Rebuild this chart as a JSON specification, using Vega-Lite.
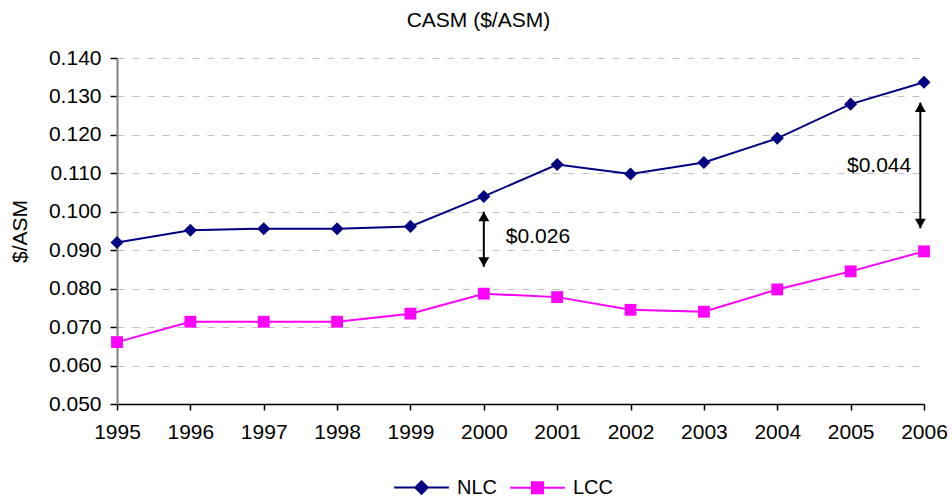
{
  "$schema": "https://vega.github.io/schema/vega-lite/v6.json",
  "width": 807,
  "height": 346,
  "autosize": {"type": "none"},
  "padding": {"left": 117, "top": 58, "right": 28, "bottom": 95},
  "background": "white",
  "title": {
    "text": "CASM ($/ASM)",
    "font": "Liberation Sans",
    "fontSize": 21,
    "fontWeight": "normal",
    "color": "black",
    "anchor": "middle",
    "frame": "bounds",
    "offset": 16
  },
  "datasets": {
    "series": [
      {"year": 1995, "series": "NLC", "casm": 0.0920},
      {"year": 1996, "series": "NLC", "casm": 0.0952},
      {"year": 1997, "series": "NLC", "casm": 0.0956},
      {"year": 1998, "series": "NLC", "casm": 0.0956},
      {"year": 1999, "series": "NLC", "casm": 0.0962},
      {"year": 2000, "series": "NLC", "casm": 0.1040},
      {"year": 2001, "series": "NLC", "casm": 0.1123},
      {"year": 2002, "series": "NLC", "casm": 0.1098},
      {"year": 2003, "series": "NLC", "casm": 0.1128},
      {"year": 2004, "series": "NLC", "casm": 0.1191},
      {"year": 2005, "series": "NLC", "casm": 0.1280},
      {"year": 2006, "series": "NLC", "casm": 0.1337},
      {"year": 1995, "series": "LCC", "casm": 0.0661},
      {"year": 1996, "series": "LCC", "casm": 0.0714},
      {"year": 1997, "series": "LCC", "casm": 0.0714},
      {"year": 1998, "series": "LCC", "casm": 0.0714},
      {"year": 1999, "series": "LCC", "casm": 0.0735},
      {"year": 2000, "series": "LCC", "casm": 0.0787},
      {"year": 2001, "series": "LCC", "casm": 0.0778},
      {"year": 2002, "series": "LCC", "casm": 0.0745},
      {"year": 2003, "series": "LCC", "casm": 0.0740},
      {"year": 2004, "series": "LCC", "casm": 0.0798},
      {"year": 2005, "series": "LCC", "casm": 0.0845},
      {"year": 2006, "series": "LCC", "casm": 0.0897}
    ],
    "arrows": [
      {"x": 2000, "top": 0.1000, "bottom": 0.0857},
      {"x": 2005.95, "top": 0.1284, "bottom": 0.0957}
    ],
    "labels": [
      {"x": 2000.30, "y": 0.0935, "label": "$0.026"},
      {"x": 2004.95, "y": 0.1118, "label": "$0.044"}
    ]
  },
  "encoding": {
    "x": {"type": "quantitative", "title": null,
          "scale": {"domain": [1995, 2006], "nice": false, "zero": false},
          "axis": {"values": [1995,1996,1997,1998,1999,2000,2001,2002,2003,2004,2005,2006], "format": "d"}},
    "y": {"type": "quantitative", "title": "$/ASM",
          "scale": {"domain": [0.05, 0.14], "nice": false, "zero": false},
          "axis": {"values": [0.05,0.06,0.07,0.08,0.09,0.1,0.11,0.12,0.13,0.14], "format": ".3f"}}
  },
  "layer": [
    {
      "data": {"name": "series"},
      "mark": {"type": "line", "strokeWidth": 2},
      "encoding": {
        "x": {"field": "year"},
        "y": {"field": "casm"},
        "color": {"field": "series", "type": "nominal",
                  "scale": {"domain": ["NLC", "LCC"], "range": ["#000080", "#FF00FF"]},
                  "legend": {"orient": "none", "legendX": 276, "legendY": 401, "padding": 0,
                             "direction": "horizontal", "title": null,
                             "labelFontSize": 20, "labelFont": "Liberation Sans", "labelColor": "black",
                             "symbolSize": 3000, "symbolStrokeWidth": 2, "columnPadding": 8, "labelOffset": 7,
                             "encode": {"symbols": {"update": {
                               "shape": {"signal": "datum.value === 'NLC' ? 'M-1,0L1,0M0,-0.23L0.23,0L0,0.23L-0.23,0Z' : 'M-1,0L1,0M-0.2,-0.2L0.2,-0.2L0.2,0.2L-0.2,0.2Z'"},
                               "fill": {"signal": "datum.value === 'NLC' ? '#000080' : '#FF00FF'"},
                               "stroke": {"signal": "datum.value === 'NLC' ? '#000080' : '#FF00FF'"},
                               "strokeWidth": {"value": 2},
                               "opacity": {"value": 1}
                             }}}}}
      }
    },
    {
      "data": {"name": "series"},
      "transform": [{"filter": "datum.series === 'NLC'"}],
      "mark": {"type": "point", "filled": true, "opacity": 1, "shape": "diamond", "size": 170, "color": "#000080"},
      "encoding": {
        "x": {"field": "year"},
        "y": {"field": "casm"}
      }
    },
    {
      "data": {"name": "series"},
      "transform": [{"filter": "datum.series === 'LCC'"}],
      "mark": {"type": "point", "filled": true, "opacity": 1, "shape": "square", "size": 140, "color": "#FF00FF"},
      "encoding": {
        "x": {"field": "year"},
        "y": {"field": "casm"}
      }
    },
    {
      "data": {"name": "arrows"},
      "mark": {"type": "rule", "color": "black", "strokeWidth": 2},
      "encoding": {
        "x": {"field": "x"},
        "y": {"field": "top"},
        "y2": {"field": "bottom"}
      }
    },
    {
      "data": {"name": "arrows"},
      "mark": {"type": "point", "shape": "triangle-up", "filled": true, "color": "black", "opacity": 1, "size": 120, "yOffset": 4.7},
      "encoding": {
        "x": {"field": "x"},
        "y": {"field": "top"}
      }
    },
    {
      "data": {"name": "arrows"},
      "mark": {"type": "point", "shape": "triangle-down", "filled": true, "color": "black", "opacity": 1, "size": 120, "yOffset": -4.7},
      "encoding": {
        "x": {"field": "x"},
        "y": {"field": "bottom"}
      }
    },
    {
      "data": {"name": "labels"},
      "mark": {"type": "text", "align": "left", "baseline": "middle", "font": "Liberation Sans", "fontSize": 21, "color": "black"},
      "encoding": {
        "x": {"field": "x"},
        "y": {"field": "y"},
        "text": {"field": "label"}
      }
    }
  ],
  "config": {
    "view": {"stroke": null},
    "axis": {"labelFont": "Liberation Sans", "titleFont": "Liberation Sans", "labelFontSize": 21, "labelColor": "black",
             "tickColor": "black", "tickWidth": 1.5, "labelOverlap": false, "labelFlush": false,
             "titleFontSize": 21, "titleFontWeight": "normal", "titleColor": "black"},
    "axisX": {"grid": false, "domainColor": "black", "domainWidth": 1.5, "tickSize": 6, "labelPadding": 11},
    "axisY": {"grid": true, "gridColor": "#c0c0c0", "gridDash": [7, 8], "gridWidth": 1,
              "domainColor": "#808080", "domainWidth": 2, "tickSize": 7, "labelPadding": 9, "titlePadding": 18}
  }
}
